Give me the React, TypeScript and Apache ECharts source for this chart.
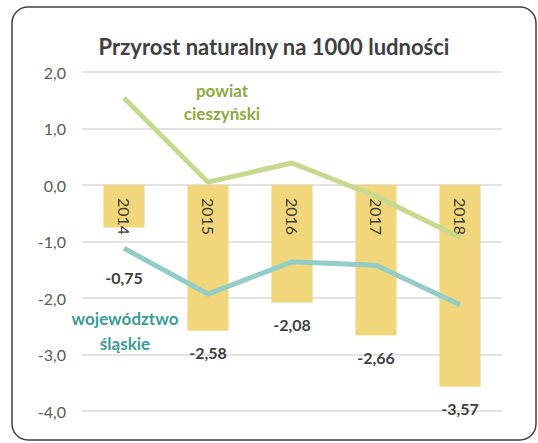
import React, { useEffect, useRef } from "react";
import * as echarts from "echarts";

const categories = ["2014", "2015", "2016", "2017", "2018"];
const powiatValues = [-0.75, -2.58, -2.08, -2.66, -3.57];
const powiatLine = [1.54, 0.05, 0.39, -0.2, -0.93];
const wojewodztwoLine = [-1.12, -1.93, -1.36, -1.42, -2.12];
const yTicks = { min: -4, max: 2, interval: 1 };

const FONT = "Lato";

export default function App() {
  const ref = useRef<HTMLDivElement>(null);
  useEffect(() => {
    if (!ref.current) return;
    const chart = echarts.init(ref.current, null, { renderer: "svg" });
    const fmt = (v: number) => v.toFixed(2).replace(".", ",");
    const note = (text: string, x: number, y: number, fill: string) => ({
      type: "text",
      x,
      y,
      style: {
        text,
        fontFamily: FONT,
        fontSize: 17,
        fontWeight: "bold",
        fill,
        align: "center",
        verticalAlign: "middle",
      },
      z: 10,
    });
    chart.setOption({
      animation: false,
      backgroundColor: "#ffffff",
      grid: { left: 82, right: 36, top: 72, bottom: 32 },
      xAxis: {
        type: "category",
        data: categories,
        axisLine: { show: false },
        axisTick: { show: false },
        axisLabel: { show: false },
      },
      yAxis: {
        type: "value",
        min: yTicks.min,
        max: yTicks.max,
        interval: yTicks.interval,
        axisLine: { show: false },
        axisTick: { show: false },
        axisLabel: {
          fontFamily: FONT,
          fontSize: 16,
          color: "#595959",
          margin: 16,
          formatter: (v: number) => v.toFixed(1).replace(".", ","),
        },
        splitLine: { lineStyle: { color: "#d9d9d9", width: 1.5 } },
      },
      series: [
        {
          type: "bar",
          barWidth: "49%",
          itemStyle: { color: "#f2d67b" },
          data: powiatValues.map((v, i) =>
            i === 0 ? { value: v, label: { distance: 42 } } : v
          ),
          label: {
            show: true,
            position: "bottom",
            distance: 14,
            fontFamily: FONT,
            fontSize: 16,
            fontWeight: "bold",
            color: "#404040",
            formatter: (p: any) => fmt(p.value),
          },
          z: 1,
        },
        {
          type: "bar",
          barWidth: "49%",
          barGap: "-100%",
          itemStyle: { color: "transparent" },
          data: powiatValues,
          label: {
            show: true,
            position: "insideTop",
            rotate: -90,
            align: "left",
            verticalAlign: "middle",
            distance: 13,
            fontFamily: FONT,
            fontSize: 16,
            color: "#404040",
            formatter: (p: any) => p.name,
          },
          z: 2,
          silent: true,
        },
        {
          type: "line",
          data: powiatLine,
          symbol: "none",
          lineStyle: { color: "#c5d98f", width: 5 },
          z: 3,
        },
        {
          type: "line",
          data: wojewodztwoLine,
          symbol: "none",
          lineStyle: { color: "#92cdc6", width: 5 },
          z: 3,
        },
      ],
      graphic: [
        {
          type: "rect",
          shape: { x: 12, y: 7, width: 524, height: 433, r: 16 },
          style: { fill: "none", stroke: "#404040", lineWidth: 1.5 },
          silent: true,
          z: 0,
        },
        {
          type: "text",
          x: 274,
          y: 46,
          style: {
            text: "Przyrost naturalny na 1000 ludności",
            fontFamily: FONT,
            fontSize: 22,
            fontWeight: "bold",
            fill: "#404040",
            align: "center",
            verticalAlign: "middle",
          },
          z: 10,
        },
        note("powiat", 222, 90, "#8daa40"),
        note("cieszyński", 222, 113, "#8daa40"),
        note("województwo", 125, 318, "#3a9c96"),
        note("śląskie", 125, 343, "#3a9c96"),
      ],
    });
    return () => chart.dispose();
  }, []);
  return (
    <div
      ref={ref}
      style={{ position: "absolute", left: 0, top: 0, width: 538, height: 443 }}
    />
  );
}
